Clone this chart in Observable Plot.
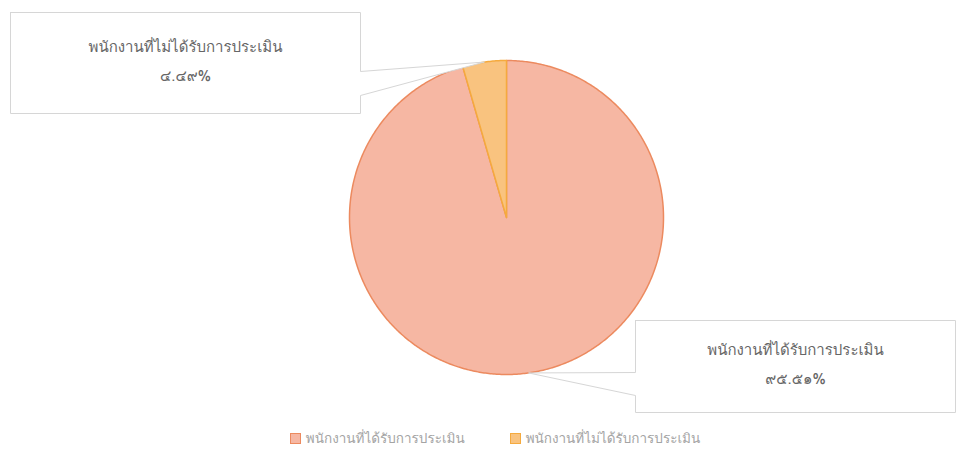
<!DOCTYPE html>
<html>
<head>
<meta charset="utf-8">
<script src="https://cdn.jsdelivr.net/npm/d3@7"></script>
<script src="https://cdn.jsdelivr.net/npm/@observablehq/plot@0.6"></script>
<style>
  html, body { margin: 0; padding: 0; background: #fff; }
  body { width: 961px; height: 454px; overflow: hidden; font-family: Tahoma, "Leelawadee UI", Loma, Garuda, Waree, "Noto Sans Thai Looped", "Noto Sans Thai", sans-serif; }
  #legend { display: flex; justify-content: center; gap: 45px; font-size: 13.5px; color: #a4a4a4; margin-top: 3px; padding-left: 29px; }
  #legend span.item { display: inline-flex; align-items: center; gap: 5px; }
  #legend span.sw { display: inline-block; width: 11px; height: 11px; box-sizing: border-box; }
</style>
</head>
<body>
<div id="chart"></div>
<div id="legend"></div>
<script>
// ---- data ----
const categories = ["พนักงานที่ได้รับการประเมิน", "พนักงานที่ไม่ได้รับการประเมิน"];
const percents = [95.51, 4.49];
const fills = ["#f6b7a3", "#f9c37f"];
const strokes = ["#ec8a5f", "#f5aa3e"];

// ---- layout ----
const W = 961, H = 424;
const PIE = {cx: 506, cy: 217, r: 157};
const boxes = [
  {x0: 635, x1: 955, y0: 320, y1: 412, side: "left", a: 372, b: 395},
  {x0: 10, x1: 360, y0: 12, y1: 113, side: "right", a: 71, b: 95}
];
const FONT = 'Tahoma, "Leelawadee UI", Loma, Garuda, Waree, "Noto Sans Thai Looped", "Noto Sans Thai", sans-serif';

const thaiDigits = s => s.replace(/[0-9]/g, d => "๐๑๒๓๔๕๖๗๘๙"[+d]);

const data = categories.map((name, i) => ({name, value: percents[i], i}));
const arcs = d3.pie().sort(null).value(d => d.value)(data);

// slice polygons
const slicePts = [];
arcs.forEach(a => {
  const n = Math.max(4, Math.ceil((a.endAngle - a.startAngle) / 0.01));
  slicePts.push({id: a.data.name, i: a.data.i, ang: null});
  for (let k = 0; k <= n; k++) {
    const t = a.startAngle + (a.endAngle - a.startAngle) * k / n;
    slicePts.push({id: a.data.name, i: a.data.i, ang: t});
  }
});
const px = p => p.ang == null ? PIE.cx : PIE.cx + PIE.r * Math.sin(p.ang);
const py = p => p.ang == null ? PIE.cy : PIE.cy - PIE.r * Math.cos(p.ang);

// callouts
const calloutPts = [];
const labels = [];
arcs.forEach((a, j) => {
  const m = (a.startAngle + a.endAngle) / 2;
  const tip = {x: PIE.cx + PIE.r * Math.sin(m), y: PIE.cy - PIE.r * Math.cos(m)};
  const b = boxes[j];
  const id = "c" + j;
  let pts;
  if (b.side === "right") {
    pts = [[b.x0, b.y0], [b.x1, b.y0], [b.x1, b.a], [tip.x, tip.y], [b.x1, b.b], [b.x1, b.y1], [b.x0, b.y1], [b.x0, b.y0]];
  } else {
    pts = [[b.x0, b.y0], [b.x1, b.y0], [b.x1, b.y1], [b.x0, b.y1], [b.x0, b.b], [tip.x, tip.y], [b.x0, b.a], [b.x0, b.y0]];
  }
  pts.forEach(([x, y]) => calloutPts.push({id, x, y}));
  const mx = (b.x0 + b.x1) / 2, my = (b.y0 + b.y1) / 2;
  labels.push({x: mx, y: my - 16, text: a.data.name});
  labels.push({x: mx, y: my + 13, text: thaiDigits(a.data.value.toFixed(2)) + "%"});
});

const chart = Plot.plot({
  width: W, height: H,
  margin: 0,
  x: {domain: [0, W], range: [0, W], axis: null},
  y: {domain: [0, H], range: [0, H], axis: null},
  style: {fontFamily: FONT, background: "#fff"},
  marks: [
    Plot.line(slicePts, {x: px, y: py, z: "id", fill: d => fills[d.i], stroke: d => strokes[d.i], strokeWidth: 1.5, curve: "linear-closed"}),
    Plot.line(calloutPts, {x: "x", y: "y", z: "id", fill: "#fff", stroke: "#d6d6d6", strokeWidth: 1}),
    Plot.text(labels, {x: "x", y: "y", text: "text", fontSize: 15, fill: "#666", textAnchor: "middle"})
  ]
});
document.getElementById("chart").appendChild(chart);

const legend = document.getElementById("legend");
categories.forEach((c, i) => {
  const it = document.createElement("span");
  it.className = "item";
  it.innerHTML = `<span class="sw" style="background:${fills[i]};border:1px solid ${strokes[i]}"></span><span>${c}</span>`;
  legend.appendChild(it);
});
</script>
</body>
</html>
